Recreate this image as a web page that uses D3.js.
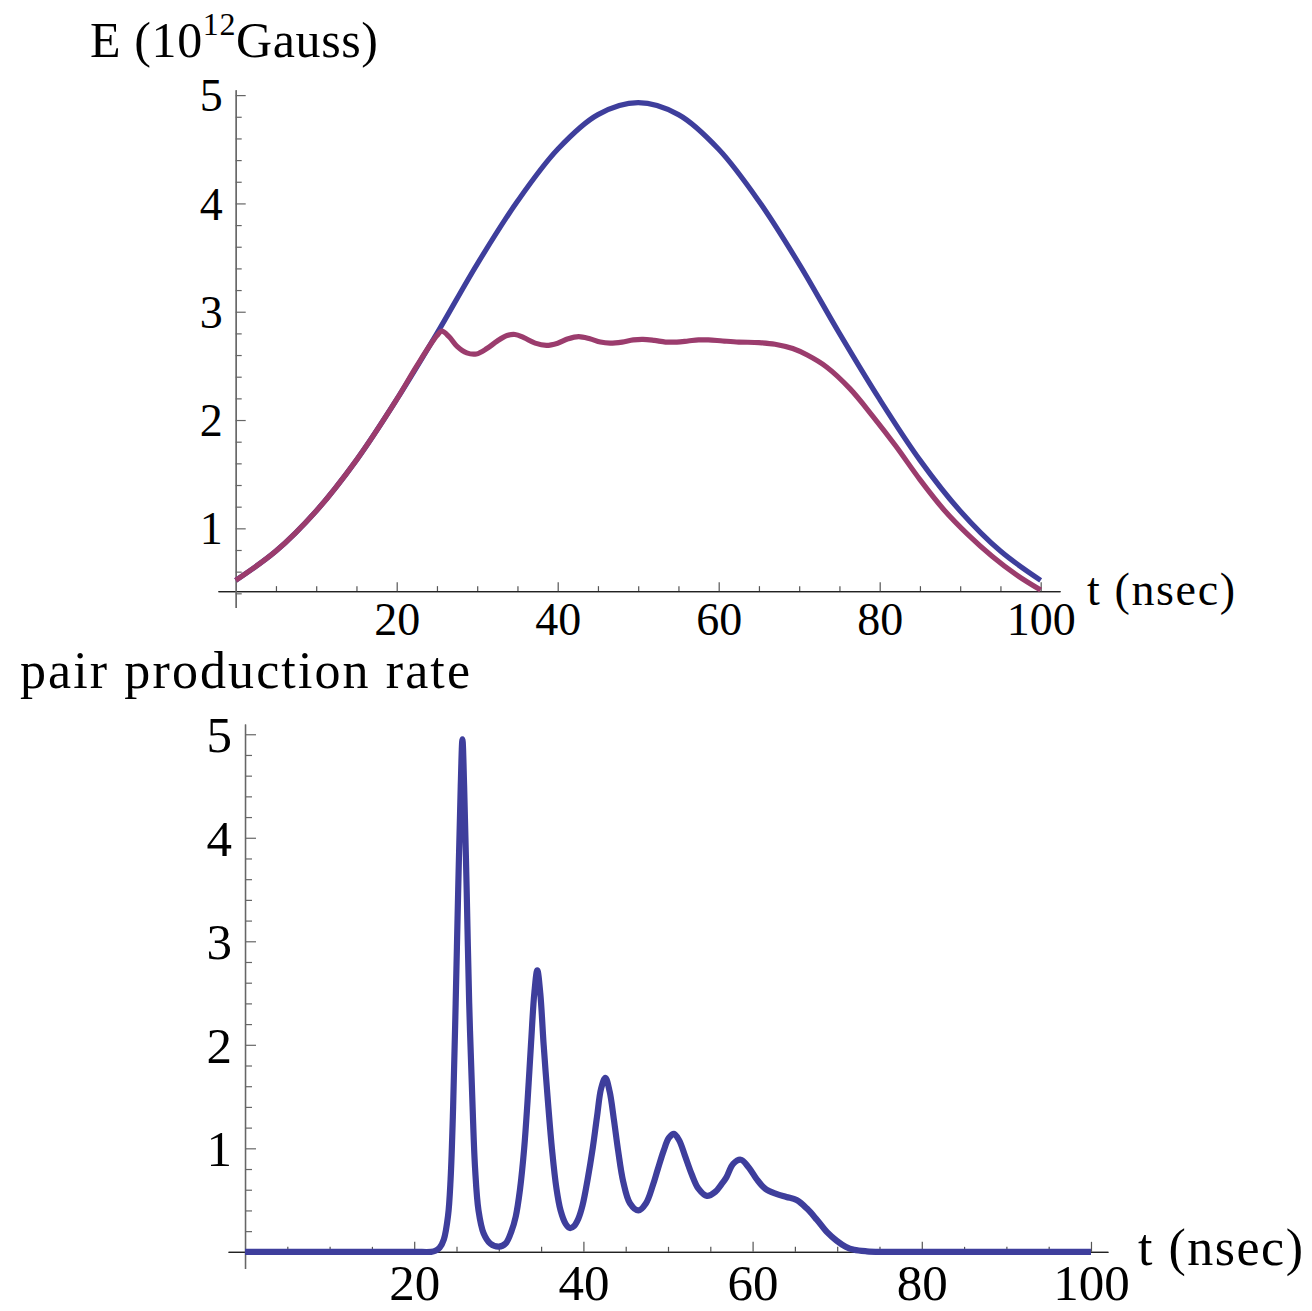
<!DOCTYPE html>
<meta charset="utf-8">
<script src="https://d3js.org/d3.v7.min.js"></script>
<style>
  body { margin: 0; background: #fff; }
  text { font-family: "Liberation Serif", "Times New Roman", serif; fill: #000; }
</style>
<div id="chart"></div>
<script>

// ---- top panel: field strength E (10^12 Gauss) vs t (nsec)
var fieldT   = [0, 5, 10, 15, 20, 25, 30, 35, 40, 45, 50, 55, 60, 65, 70, 75, 80, 85, 90, 95, 100];
var fieldE   = [0.52, 0.79, 1.16, 1.63, 2.19, 2.80, 3.44, 4.02, 4.50, 4.82, 4.93, 4.82, 4.50, 4.02, 3.44, 2.80, 2.19, 1.63, 1.16, 0.79, 0.52];

var screenT  = [0, 5, 10, 15, 20, 22.5, 25, 25.6, 26.5, 27.5, 28.7, 29.9, 31.2, 32.5, 33.7, 34.7, 35.8, 37.2, 38.6,
                40, 41.3, 42.6, 44, 45.3, 46.5, 48, 49.4, 50.6, 52, 53.4, 54.8, 56.2, 57.5, 58.7, 60.5, 62.5, 65,
                67, 69.2, 71, 73.4, 76.3, 79.2, 82, 85, 88, 91, 94, 97, 100];
var screenE  = [0.52, 0.79, 1.16, 1.63, 2.19, 2.50, 2.78, 2.82, 2.77, 2.68, 2.62, 2.61, 2.66, 2.73, 2.78, 2.79, 2.76, 2.71, 2.69,
                2.71, 2.75, 2.77, 2.75, 2.72, 2.71, 2.72, 2.74, 2.745, 2.735, 2.72, 2.72, 2.73, 2.74, 2.74, 2.73, 2.72, 2.715,
                2.70, 2.66, 2.60, 2.49, 2.29, 2.03, 1.76, 1.45, 1.17, 0.94, 0.74, 0.57, 0.43];

// ---- bottom panel: pair production rate vs t (nsec)
var rateT = [0, 10, 20, 22, 22.5, 23, 23.5, 24, 24.3, 24.6, 24.9, 25.2, 25.5, 25.7, 25.9, 26.2, 26.5, 26.9, 27.2, 27.6, 28.2, 29, 30,
             30.8, 31.5, 32, 32.5, 33, 33.4, 33.8, 34.2, 34.55, 34.9, 35.3, 35.8, 36.3, 36.8, 37.3, 37.9, 38.4, 38.9,
             39.4, 39.9, 40.5, 41.1, 41.6, 42.1, 42.6, 43.1, 43.6, 44.1, 44.7, 45.5, 46.5,
             47.4, 48.2, 48.8, 49.5, 50.1, 50.7, 51.3, 52, 52.8, 53.6, 54.6,
             55.6, 56.3, 56.9, 57.7, 58.6, 59.5, 60.5, 61.5, 62.8, 64, 65.2, 66.4, 67.6, 68.8, 69.9, 71, 72, 73.5, 75, 80, 90, 100];
var rate  = [0, 0, 0, 0, 0.01, 0.04, 0.12, 0.35, 0.7, 1.4, 2.4, 3.5, 4.5, 4.95, 4.5, 3.5, 2.4, 1.4, 0.8, 0.4, 0.18, 0.08, 0.05,
             0.08, 0.2, 0.34, 0.6, 1.0, 1.46, 2.0, 2.5, 2.72, 2.5, 2.0, 1.46, 0.98, 0.62, 0.4, 0.27, 0.23, 0.25,
             0.32, 0.45, 0.7, 1.0, 1.3, 1.58, 1.68, 1.55, 1.28, 0.98, 0.68, 0.47, 0.4,
             0.47, 0.64, 0.8, 0.98, 1.1, 1.14, 1.08, 0.93, 0.75, 0.61, 0.54,
             0.58, 0.65, 0.72, 0.85, 0.89, 0.82, 0.7, 0.61, 0.56, 0.53, 0.5, 0.42, 0.31, 0.19, 0.11, 0.05, 0.02, 0.005, 0, 0, 0, 0];

var xMajor = [20, 40, 60, 80, 100];
var xMinor = [5, 10, 15, 25, 30, 35, 45, 50, 55, 65, 70, 75, 85, 90, 95];
var yMajor = [1, 2, 3, 4, 5];
var yMinorTop = [0.4, 0.6, 0.8, 1.2, 1.4, 1.6, 1.8, 2.2, 2.4, 2.6, 2.8, 3.2, 3.4, 3.6, 3.8, 4.2, 4.4, 4.6, 4.8];
var yMinorBottom = [0, 0.2].concat(yMinorTop);

var blue = "#3e3e9c", magenta = "#9b3c6d";

var svg = d3.select("#chart").append("svg")
  .attr("width", 1312)
  .attr("height", 1311);

function panel(opt) {
  var g = svg.append("g");
  var x = d3.scaleLinear().domain(opt.xDom).range(opt.xRange);
  var y = d3.scaleLinear().domain(opt.yDom).range(opt.yRange);

  // x axis (ticks point up)
  var gx = g.append("g").attr("transform", "translate(0," + y(opt.xAxisAt) + ")");
  gx.append("g").call(d3.axisBottom(x).tickValues(xMinor).tickSize(-opt.tMinor).tickSizeOuter(0).tickFormat(""));
  gx.append("g").call(d3.axisBottom(x).tickValues(xMajor).tickSize(-opt.tMajor).tickSizeOuter(0)
      .tickFormat(d3.format("d")).tickPadding(opt.xPad));
  gx.selectAll(".domain").attr("stroke", "#222").attr("stroke-width", 1.3);
  gx.selectAll(".tick line").attr("stroke", "#555").attr("stroke-width", 1.2);
  gx.selectAll("text").style("font-size", opt.tickFont + "px")
    .style("font-family", "'Liberation Serif', serif");

  // y axis (ticks point right, labels left)
  var gy = g.append("g").attr("transform", "translate(" + x(0) + ",0)");
  gy.append("g").call(d3.axisLeft(y).tickValues(opt.yMinor).tickSize(-opt.tMinorY).tickSizeOuter(0).tickFormat(""));
  gy.append("g").call(d3.axisLeft(y).tickValues(yMajor).tickSize(-opt.tMajorY).tickSizeOuter(0)
      .tickFormat(d3.format("d")).tickPadding(opt.yPad));
  gy.selectAll(".domain").attr("stroke", "#666").attr("stroke-width", 1.3);
  gy.selectAll(".tick line").attr("stroke", "#666").attr("stroke-width", 1.2);
  gy.selectAll("text").style("font-size", opt.tickFont + "px")
    .style("font-family", "'Liberation Serif', serif")
    .attr("dy", "0.34em");

  var line = d3.line()
    .x(function(d) { return x(d[0]); })
    .y(function(d) { return y(Math.max(opt.yDom[0], d[1])); })
    .curve(d3.curveCatmullRom.alpha(0.5));

  opt.series.forEach(function(s) {
    g.append("path")
      .datum(d3.zip(s.t, s.v))
      .attr("d", line)
      .attr("fill", "none")
      .attr("stroke", s.color)
      .attr("stroke-width", opt.lw)
      .attr("stroke-linejoin", "round");
  });
  return g;
}

// top panel
var top = panel({
  xDom: [-2.2, 102.4], xRange: [218, 1060],
  yDom: [0.27, 5.05], yRange: [607.4, 89.7],
  xAxisAt: 0.42,
  tMajor: 9, tMinor: 5, tMajorY: 10, tMinorY: 6,
  xPad: 11, yPad: 13, tickFont: 46,
  yMinor: yMinorTop, lw: 5.2,
  series: [
    {t: fieldT, v: fieldE, color: blue},
    {t: screenT, v: screenE, color: magenta}
  ]
});

// bottom panel
var bottom = panel({
  xDom: [-2, 102], xRange: [228.1, 1107.9],
  yDom: [-0.16, 5.1], yRange: [1268.4, 723.9],
  xAxisAt: 0,
  tMajor: 10, tMinor: 5, tMajorY: 11, tMinorY: 7,
  xPad: 12, yPad: 13, tickFont: 51,
  yMinor: yMinorBottom, lw: 6.2,
  series: [
    {t: rateT, v: rate, color: blue}
  ]
});

// axis labels
var lab = svg.append("text").attr("x", 90).attr("y", 57).style("font-size", "50px")
  .attr("textLength", 288).attr("lengthAdjust", "spacing");
lab.append("tspan").text("E (10");
lab.append("tspan").attr("dy", -22).style("font-size", "32px").text("12");
lab.append("tspan").attr("dy", 22).text("Gauss)");

svg.append("text").attr("x", 1087).attr("y", 605).style("font-size", "46px")
  .attr("textLength", 148).attr("lengthAdjust", "spacing").text("t (nsec)");

svg.append("text").attr("x", 20).attr("y", 688).style("font-size", "52px")
  .attr("textLength", 450).attr("lengthAdjust", "spacing").text("pair production rate");

svg.append("text").attr("x", 1138).attr("y", 1265).style("font-size", "52px")
  .attr("textLength", 165).attr("lengthAdjust", "spacing").text("t (nsec)");

</script>
